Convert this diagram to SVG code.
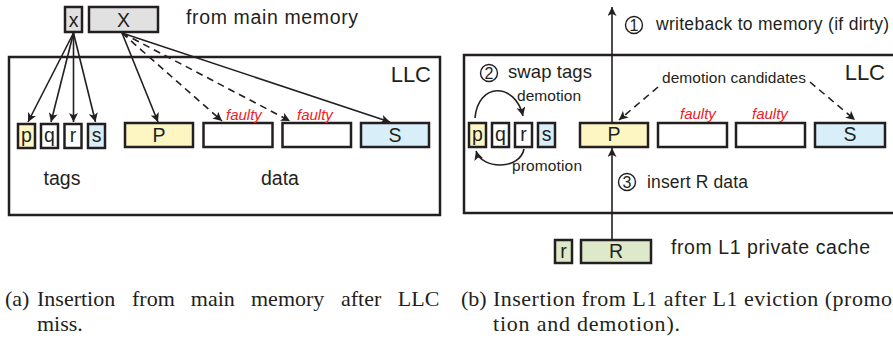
<svg xmlns="http://www.w3.org/2000/svg" width="893" height="343" viewBox="0 0 893 343">
  <style>
    .frame { fill: none; stroke: #231f20; stroke-width: 2.5; }
    .box { stroke: #231f20; stroke-width: 2.5; fill: #ffffff; }
    .yel { fill: #fdf6c3; }
    .blu { fill: #d8eef8; }
    .grn { fill: #dde9c8; }
    .gry { fill: #e1e1e2; }
    .lbl { font-family: "Liberation Sans", Arial, sans-serif; fill: #231f20; }
    .in { font-size: 19.5px; text-anchor: middle; }
    .sm { font-size: 15.5px; }
    .md { font-size: 17.5px; }
    .big { font-size: 22px; text-anchor: end; }
    .faulty { font-family: "Liberation Sans", Arial, sans-serif; font-style: italic; font-size: 15px; fill: #ed1c24; }
    .num { font-family: "Liberation Sans", Arial, sans-serif; font-size: 16px; fill: #231f20; text-anchor: middle; }
    .ring { fill: none; stroke: #231f20; stroke-width: 1.4; }
    .cap { font-family: "Liberation Serif", "Times New Roman", serif; font-size: 22px; fill: #231f20; }
    .conn { fill: none; stroke: #231f20; stroke-width: 1.6; marker-end: url(#head); }
    .dash { stroke-dasharray: 7 5; }
  </style>
  <defs>
    <marker id="head" viewBox="0 0 10 10" refX="10" refY="5" markerUnits="userSpaceOnUse" markerWidth="10" markerHeight="9" orient="auto">
      <path d="M0,0 L10,5 L0,10 L2.5,5 z" fill="#231f20"/>
    </marker>
  </defs>

  <!-- ===== Left: insertion from main memory ===== -->
  <g id="llc-a">
    <rect class="frame" x="9" y="57" width="431" height="158"/>
    <text class="lbl big" x="431" y="82">LLC</text>
  </g>
  <g id="mem-tag-x">
    <rect class="box gry" x="65" y="7" width="17" height="25"/>
    <text class="lbl in" x="73.5" y="27">x</text>
  </g>
  <g id="mem-data-X">
    <rect class="box gry" x="89" y="7" width="69" height="25"/>
    <text class="lbl in" x="123.5" y="27">X</text>
  </g>
  <text class="lbl" x="186" y="24" font-size="19.5" textLength="172" lengthAdjust="spacing">from main memory</text>

  <g id="tag-p-a"><rect class="box yel" x="18" y="124" width="17" height="24"/><text class="lbl in" x="26.5" y="142">p</text></g>
  <g id="tag-q-a"><rect class="box" x="41" y="124" width="17" height="24"/><text class="lbl in" x="49.5" y="142">q</text></g>
  <g id="tag-r-a"><rect class="box" x="64.5" y="124" width="17" height="24"/><text class="lbl in" x="73" y="142">r</text></g>
  <g id="tag-s-a"><rect class="box blu" x="88" y="124" width="17" height="24"/><text class="lbl in" x="96.5" y="142">s</text></g>

  <g id="data-P-a"><rect class="box yel" x="125" y="123" width="68" height="24"/><text class="lbl in" x="159" y="142">P</text></g>
  <g id="data-2-a"><rect class="box" x="203.5" y="123" width="69" height="24"/><text class="faulty" x="226" y="120">faulty</text></g>
  <g id="data-3-a"><rect class="box" x="282.5" y="123" width="68.5" height="24"/><text class="faulty" x="297" y="120">faulty</text></g>
  <g id="data-S-a"><rect class="box blu" x="361" y="123" width="68" height="24"/><text class="lbl in" x="395" y="142">S</text></g>

  <text class="lbl in" x="62" y="185">tags</text>
  <text class="lbl in" x="280" y="185">data</text>

  <!-- ===== Right: insertion from L1 ===== -->
  <g id="llc-b">
    <rect class="frame" x="464" y="55" width="460" height="158"/>
    <text class="lbl big" x="885" y="80">LLC</text>
  </g>

  <g id="tag-p-b"><rect class="box yel" x="469" y="123" width="17" height="24"/><text class="lbl in" x="477.5" y="141">p</text></g>
  <g id="tag-q-b"><rect class="box" x="492" y="123" width="17" height="24"/><text class="lbl in" x="500.5" y="141">q</text></g>
  <g id="tag-r-b"><rect class="box" x="515" y="123" width="17" height="24"/><text class="lbl in" x="523.5" y="141">r</text></g>
  <g id="tag-s-b"><rect class="box blu" x="538" y="123" width="17" height="24"/><text class="lbl in" x="546.5" y="141">s</text></g>

  <g id="data-P-b"><rect class="box yel" x="580" y="123" width="68" height="24"/><text class="lbl in" x="614" y="141">P</text></g>
  <g id="data-2-b"><rect class="box" x="658" y="123" width="69" height="24"/><text class="faulty" x="680" y="119">faulty</text></g>
  <g id="data-3-b"><rect class="box" x="736" y="123" width="69" height="24"/><text class="faulty" x="752" y="119">faulty</text></g>
  <g id="data-S-b"><rect class="box blu" x="815" y="123" width="70" height="24"/><text class="lbl in" x="850" y="141">S</text></g>

  <g id="step-1">
    <circle class="ring" cx="634" cy="25" r="8.5"/>
    <text class="num" x="634" y="30.8">1</text>
    <text class="lbl md" x="656" y="30" textLength="233" lengthAdjust="spacing">writeback to memory (if dirty)</text>
  </g>
  <g id="step-2">
    <circle class="ring" cx="489" cy="73" r="8.5"/>
    <text class="num" x="489" y="78.8">2</text>
    <text class="lbl" x="508" y="78" font-size="18.5" textLength="84" lengthAdjust="spacing">swap tags</text>
  </g>
  <g id="step-3">
    <circle class="ring" cx="627" cy="182" r="8.5"/>
    <text class="num" x="627" y="187.8">3</text>
    <text class="lbl md" x="647" y="188" textLength="101" lengthAdjust="spacing">insert R data</text>
  </g>
  <text class="lbl sm" x="517" y="101" textLength="64" lengthAdjust="spacing">demotion</text>
  <text class="lbl sm" x="512" y="171" textLength="70" lengthAdjust="spacing">promotion</text>
  <text class="lbl sm" x="662" y="83" textLength="144" lengthAdjust="spacing">demotion candidates</text>

  <g id="l1-tag-r"><rect class="box grn" x="555" y="240" width="17" height="23"/><text class="lbl in" x="563.5" y="258">r</text></g>
  <g id="l1-data-R"><rect class="box grn" x="581" y="240" width="70" height="23"/><text class="lbl in" x="616" y="258">R</text></g>
  <text class="lbl" x="671" y="254" font-size="19.5" textLength="199" lengthAdjust="spacing">from L1 private cache</text>

  <!-- ===== Connectors ===== -->
  <g id="connectors">
    <path class="conn" d="M73.5,33 L28,122"/>
    <path class="conn" d="M73.5,33 L51,122"/>
    <path class="conn" d="M73.5,33 L73.5,122"/>
    <path class="conn" d="M73.5,33 L95.5,122"/>
    <path class="conn" d="M122,33 L158,122"/>
    <path class="conn dash" d="M122,33 L222,121"/>
    <path class="conn dash" d="M122,33 L290,121"/>
    <path class="conn" d="M122,33 L390,122"/>

    <path class="conn" d="M612,123 L612,7"/>
    <path class="conn" d="M612,240 L612,148"/>
    <path class="conn dash" d="M658,87 L619,120"/>
    <path class="conn dash" d="M810,82 L855,120"/>
    <path class="conn" d="M475,118 C478,82 515,82 523,116"/>
    <path class="conn" d="M524,149 C520,170 482,170 476,151"/>
  </g>

  <!-- ===== Captions ===== -->
  <g id="caption-a">
    <text class="cap" x="5" y="306">(a)</text>
    <text class="cap" y="306"><tspan x="37">Insertion</tspan><tspan x="132">from</tspan><tspan x="190.8">main</tspan><tspan x="251">memory</tspan><tspan x="341">after</tspan><tspan x="397.8">LLC</tspan></text>
    <text class="cap" x="37" y="331">miss.</text>
  </g>
  <g id="caption-b">
    <text class="cap" x="461" y="306">(b)</text>
    <text class="cap" x="493" y="306" textLength="399" lengthAdjust="spacing">Insertion from L1 after L1 eviction (promo</text>
    <text class="cap" x="493" y="331" textLength="187" lengthAdjust="spacing">tion and demotion).</text>
  </g>
</svg>
